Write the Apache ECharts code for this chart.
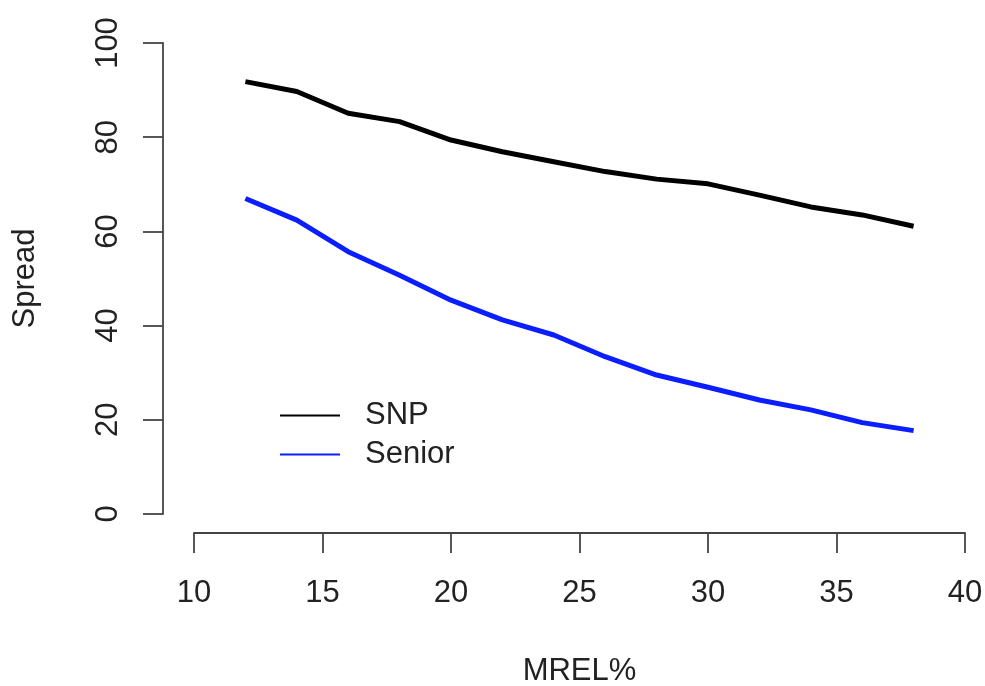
<!DOCTYPE html>
<html>
<head>
<meta charset="utf-8">
<script src="https://cdn.jsdelivr.net/npm/echarts@6/dist/echarts.min.js"></script>
<style>
  html, body { margin: 0; padding: 0; background: #fff; }
  #chart { width: 985px; height: 686px; }
</style>
</head>
<body>
<div id="chart"></div>
<script>
const mrel = [12, 14, 16, 18, 20, 22, 24, 26, 28, 30, 32, 34, 36, 38];
const snp = [91.8, 89.7, 85.1, 83.3, 79.4, 76.9, 74.8, 72.7, 71.1, 70.1, 67.7, 65.2, 63.5, 61.1];
const senior = [67.0, 62.4, 55.7, 50.7, 45.4, 41.2, 38.0, 33.4, 29.5, 26.9, 24.2, 22.1, 19.4, 17.7];

const chart = echarts.init(document.getElementById("chart"));
const font = "Liberation Sans, Arial, sans-serif";
const axisColor = "#444";

chart.setOption({
  animation: false,
  grid: { left: 194, right: 20, top: 43, bottom: 172, containLabel: false, outerBoundsMode: "none" },
  legend: {
    orient: "vertical",
    left: 275,
    top: 395,
    itemWidth: 60,
    itemHeight: 2,
    itemGap: 8,
    icon: "rect",
    textStyle: { fontFamily: font, fontSize: 31, color: "#222", padding: [0, 0, 0, 20] },
    data: ["SNP", "Senior"]
  },
  xAxis: {
    type: "value",
    min: 10,
    max: 40,
    interval: 5,
    offset: 19,
    name: "MREL%",
    nameLocation: "middle",
    nameGap: 123,
    nameTextStyle: { fontFamily: font, fontSize: 31, color: "#222" },
    axisLine: { show: true, onZero: false, lineStyle: { color: axisColor, width: 1.8 } },
    axisTick: { show: true, length: 20, lineStyle: { color: axisColor, width: 1.8 } },
    axisLabel: { fontFamily: font, fontSize: 31, color: "#222", margin: 45 },
    splitLine: { show: false }
  },
  yAxis: {
    type: "value",
    min: 0,
    max: 100,
    interval: 20,
    offset: 31,
    name: "Spread",
    nameLocation: "middle",
    nameGap: 122,
    nameRotate: 90,
    nameTextStyle: { fontFamily: font, fontSize: 31, color: "#222" },
    axisLine: { show: true, lineStyle: { color: axisColor, width: 1.8 } },
    axisTick: { show: true, length: 20, lineStyle: { color: axisColor, width: 1.8 } },
    axisLabel: { fontFamily: font, fontSize: 31, color: "#222", margin: 39, rotate: 90, align: "center", verticalAlign: "bottom" },
    splitLine: { show: false }
  },
  series: [
    {
      name: "SNP",
      type: "line",
      data: mrel.map((x, i) => [x, snp[i]]),
      showSymbol: false,
      color: "#000",
      lineStyle: { width: 5, color: "#000" }
    },
    {
      name: "Senior",
      type: "line",
      data: mrel.map((x, i) => [x, senior[i]]),
      showSymbol: false,
      color: "#0a1eff",
      lineStyle: { width: 5, color: "#0a1eff" }
    }
  ]
});
</script>
</body>
</html>
